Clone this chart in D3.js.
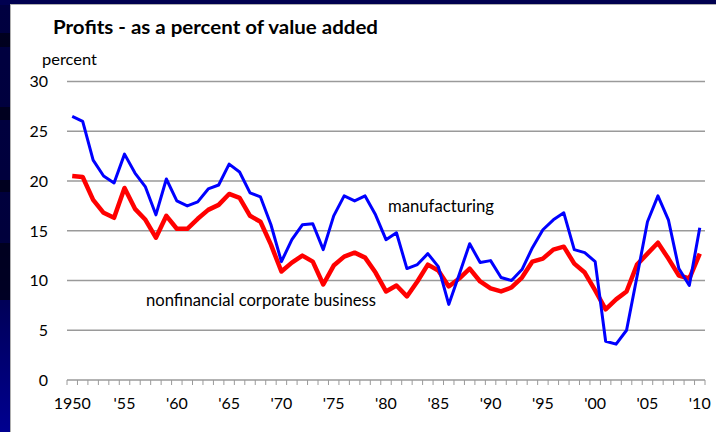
<!DOCTYPE html>
<html><head><meta charset="utf-8">
<script src="https://cdn.jsdelivr.net/npm/d3@7"></script>
<style>body{margin:0;padding:0;overflow:hidden;background:#fff}</style>
</head><body>
<svg id="c" width="716" height="432"></svg>
<script>
const years = d3.range(1950, 2011);
const manufacturing = [26.5,26.0,22.1,20.5,19.8,22.7,20.8,19.4,16.6,20.2,18.0,17.5,17.9,19.2,19.6,21.7,20.9,18.8,18.4,15.6,11.9,14.1,15.6,15.7,13.1,16.5,18.5,18.0,18.5,16.6,14.1,14.8,11.2,11.6,12.7,11.4,7.6,10.6,13.7,11.8,12.0,10.3,10.0,11.1,13.3,15.1,16.1,16.8,13.1,12.8,11.9,3.9,3.6,5.0,10.4,15.9,18.5,16.1,11.2,9.5,15.3];
const nonfinancial = [20.5,20.4,18.1,16.8,16.3,19.3,17.2,16.1,14.3,16.5,15.2,15.2,16.2,17.1,17.6,18.7,18.3,16.5,15.9,13.6,10.9,11.8,12.5,11.9,9.6,11.5,12.4,12.8,12.3,10.8,8.9,9.5,8.4,9.9,11.6,11.0,9.4,10.2,11.2,9.9,9.2,8.9,9.3,10.3,11.9,12.2,13.1,13.4,11.7,10.8,9.0,7.1,8.1,8.9,11.6,12.7,13.8,12.2,10.5,10.2,12.7];
const yTicks = [0,5,10,15,20,25,30];
const xLabelYears = [1950,1955,1960,1965,1970,1975,1980,1985,1990,1995,2000,2005,2010];
const fmtYear = y => y === 1950 ? "1950" : "'" + String(y % 100).padStart(2, "0");

const svg = d3.select("#c");
const font = "Lato, 'Open Sans', sans-serif";

// frame
const defs = svg.append("defs");
const g1 = defs.append("linearGradient").attr("id","lb").attr("x1",0).attr("y1",0).attr("x2",0).attr("y2",1);
g1.append("stop").attr("offset","0%").attr("stop-color","#000040");
g1.append("stop").attr("offset","55%").attr("stop-color","#00003c");
g1.append("stop").attr("offset","100%").attr("stop-color","#000090");
svg.append("rect").attr("x",0).attr("y",0).attr("width",716).attr("height",432).attr("fill","url(#lb)");
[[33,14],[107,13],[180,12],[243,57]].forEach(([yy,h]) =>
  svg.append("rect").attr("x",0).attr("y",yy).attr("width",10).attr("height",h).attr("fill","#000018").attr("opacity",0.8));
svg.append("rect").attr("x",0).attr("y",0).attr("width",716).attr("height",5).attr("fill","#000050");
svg.append("rect").attr("x",10).attr("y",4).attr("width",706).attr("height",428).attr("fill","#b0b0b0");
svg.append("rect").attr("x",11).attr("y",5).attr("width",705).attr("height",427).attr("fill","#ffffff");

const x = d3.scaleBand().domain(years).range([67, 705]);
const y = d3.scaleLinear().domain([0, 30]).range([380, 81.5]);

// gridlines
svg.append("g").selectAll("line").data(yTicks.filter(d => d > 0)).join("line")
  .attr("x1", 67).attr("x2", 705).attr("y1", d => y(d)).attr("y2", d => y(d))
  .attr("stroke", "#9a9a9a").attr("stroke-width", 1.5);

// y labels
svg.append("g").selectAll("text").data(yTicks).join("text")
  .attr("x", 48).attr("y", d => y(d)).attr("dy", "0.36em")
  .attr("text-anchor", "end").attr("font-family", font).attr("font-size", 16).attr("fill", "#000")
  .text(d => d);

// x axis
const xAxis = svg.append("g");
xAxis.append("line").attr("x1", 67).attr("x2", 705).attr("y1", y(0)).attr("y2", y(0))
  .attr("stroke", "#9a9a9a").attr("stroke-width", 1.5);
const bounds = years.map(d => x(d)).concat([x(2010) + x.bandwidth()]);
xAxis.selectAll("line.t").data(bounds).join("line").attr("class","t")
  .attr("x1", d => d).attr("x2", d => d).attr("y1", y(0)).attr("y2", y(0) + 5)
  .attr("stroke", "#9a9a9a").attr("stroke-width", 1);
xAxis.selectAll("text").data(xLabelYears).join("text")
  .attr("x", d => x(d) + x.bandwidth() / 2).attr("y", 403).attr("dy", "0.36em")
  .attr("text-anchor", "middle").attr("font-family", font).attr("font-size", 16).attr("fill", "#000")
  .text(fmtYear);

// lines
const line = d3.line().x((d, i) => x(years[i]) + x.bandwidth() / 2).y(d => y(d));
svg.append("path").datum(nonfinancial).attr("d", line).attr("fill", "none")
  .attr("stroke", "#ff0000").attr("stroke-width", 4.5).attr("stroke-linejoin", "round");
svg.append("path").datum(manufacturing).attr("d", line).attr("fill", "none")
  .attr("stroke", "#0000ff").attr("stroke-width", 3).attr("stroke-linejoin", "round");

// texts
svg.append("text").attr("x", 53).attr("y", 34).attr("font-family", font).attr("font-weight", "bold")
  .attr("font-size", 19).attr("fill", "#000").attr("textLength", 325).attr("lengthAdjust", "spacingAndGlyphs")
  .text("Profits - as a percent of value added");
svg.append("text").attr("x", 42).attr("y", 65).attr("font-family", font)
  .attr("font-size", 15.5).attr("fill", "#000").attr("textLength", 55).attr("lengthAdjust", "spacingAndGlyphs")
  .text("percent");
svg.append("text").attr("x", 388).attr("y", 212).attr("font-family", font)
  .attr("font-size", 17).attr("fill", "#000").attr("textLength", 106).attr("lengthAdjust", "spacingAndGlyphs")
  .text("manufacturing");
svg.append("text").attr("x", 146).attr("y", 306).attr("font-family", font)
  .attr("font-size", 17).attr("fill", "#000").attr("textLength", 230).attr("lengthAdjust", "spacingAndGlyphs")
  .text("nonfinancial corporate business");
</script>
</body></html>
